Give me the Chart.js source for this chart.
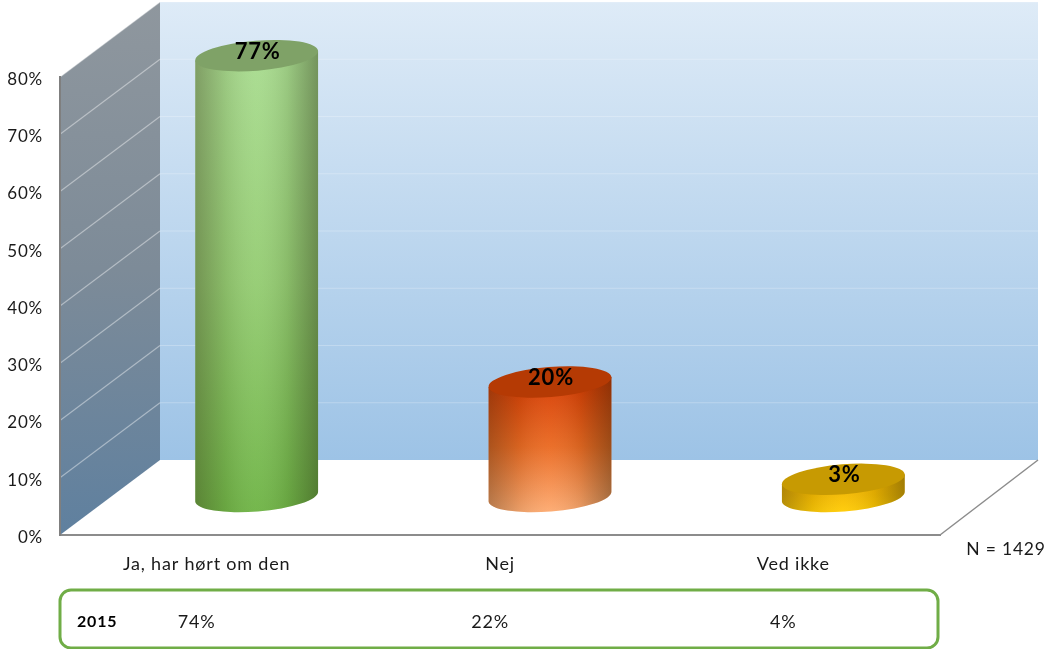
<!DOCTYPE html>
<html>
<head>
<meta charset="utf-8">
<title>Chart</title>
<script src="https://cdn.jsdelivr.net/npm/chart.js@4"></script>
<style>
  html, body { margin: 0; padding: 0; background: #fff; }
  canvas { display: block; }
</style>
</head>
<body>
<canvas id="chart" width="1045" height="649"></canvas>
<script>
const categories = ['Ja, har hørt om den', 'Nej', 'Ved ikke'];
const values2016 = [77, 20, 3];
const values2015 = [74, 22, 4];
const rowLabel = '2015';
const sampleNote = 'N = 1429';

// body colours per bar: top, middle, bottom, lid
const barColors = [
    ['#a9dc90', '#94cc72', '#6fb446', '#7fa267'],
    ['#d63c02', '#ea6a22', '#fdaa70', '#b53a04'],
    ['#f0b400', '#f5bb00', '#ffcb05', '#c79a02']
];

const FONT = 'Lato, "Open Sans", sans-serif';
const DEPTH_X = 100;  // how far the back wall sits behind the front edge
const DEPTH_Y = 75;
const TILT = -0.08;   // ellipses lean a little in the picture
const RY = 15;

function drawWalls(chart) {
    const { ctx, chartArea: a, scales: { y } } = chart;
    const left = a.left, right = a.right, bottom = a.bottom, top = a.top;
    const backLeft = left + DEPTH_X, backRight = right + 98, backBottom = bottom - DEPTH_Y, backTop = top - DEPTH_Y;

    // back wall
    let g = ctx.createLinearGradient(0, backTop, 0, backBottom);
    g.addColorStop(0, '#deebf7');
    g.addColorStop(1, '#9dc3e6');
    ctx.fillStyle = g;
    ctx.fillRect(backLeft, backTop, backRight - backLeft, backBottom - backTop);

    // side wall
    g = ctx.createLinearGradient(0, backTop, 0, bottom);
    g.addColorStop(0, '#8f979e');
    g.addColorStop(0.5, '#7d8b98');
    g.addColorStop(1, '#5f809f');
    ctx.fillStyle = g;
    ctx.beginPath();
    ctx.moveTo(left, top);
    ctx.lineTo(backLeft, backTop);
    ctx.lineTo(backLeft, backBottom);
    ctx.lineTo(left, bottom);
    ctx.closePath();
    ctx.fill();

    // grid lines run along both walls
    y.ticks.forEach(t => {
        if (t.value === 0) return;
        const py = y.getPixelForValue(t.value);
        ctx.lineWidth = 1.2;
        ctx.strokeStyle = 'rgba(255,255,255,0.42)';
        ctx.beginPath();
        ctx.moveTo(left, py);
        ctx.lineTo(backLeft, py - DEPTH_Y);
        ctx.stroke();
        ctx.strokeStyle = 'rgba(255,255,255,0.25)';
        ctx.beginPath();
        ctx.moveTo(backLeft, py - DEPTH_Y);
        ctx.lineTo(backRight, py - DEPTH_Y);
        ctx.stroke();
    });

    // floor edge on the right
    ctx.strokeStyle = '#8c8c8c';
    ctx.lineWidth = 1.5;
    ctx.beginPath();
    ctx.moveTo(right, bottom);
    ctx.lineTo(backRight, backBottom);
    ctx.stroke();
}

function drawCylinder(ctx, x, topY, baseY, w, colors) {
    const rx = w / 2;
    const ox = rx * Math.cos(TILT), oy = rx * Math.sin(TILT);

    ctx.save();
    ctx.beginPath();
    ctx.ellipse(x, baseY, rx, RY, TILT, 0, Math.PI);
    ctx.lineTo(x - ox, topY - oy);
    ctx.lineTo(x + ox, topY + oy);
    ctx.closePath();
    ctx.clip();

    let g = ctx.createLinearGradient(0, topY, 0, baseY + RY);
    g.addColorStop(0, colors[0]);
    g.addColorStop(0.5, colors[1]);
    g.addColorStop(1, colors[2]);
    ctx.fillStyle = g;
    ctx.fillRect(x - rx - 2, topY - RY - 5, w + 4, baseY - topY + 2 * RY + 10);

    // round shading across the body
    g = ctx.createLinearGradient(x - rx, 0, x + rx, 0);
    g.addColorStop(0, 'rgba(50,40,20,0.34)');
    g.addColorStop(0.25, 'rgba(50,40,20,0.1)');
    g.addColorStop(0.5, 'rgba(255,255,255,0.04)');
    g.addColorStop(0.75, 'rgba(30,30,10,0.1)');
    g.addColorStop(1, 'rgba(30,30,10,0.38)');
    ctx.fillStyle = g;
    ctx.fillRect(x - rx - 2, topY - RY - 5, w + 4, baseY - topY + 2 * RY + 10);
    ctx.restore();

    // lid
    ctx.fillStyle = colors[3];
    ctx.beginPath();
    ctx.ellipse(x, topY, rx, RY, TILT, 0, Math.PI * 2);
    ctx.fill();
}

const scene = {
    id: 'scene',
    // the y labels sit a little below their grid lines in the original
    afterLayout(chart) {
        chart.scales.y.getLabelItems().forEach(item => { item.options.translation[1] += 2.5; });
    },
    beforeDraw(chart) {
        chart.ctx.letterSpacing = '0.8px';
        drawWalls(chart);
    },
    // the bars are cylinders standing halfway back on the floor
    beforeDatasetDraw(chart, args) {
        const ctx = chart.ctx;
        args.meta.data.forEach((bar, i) => {
            drawCylinder(ctx, bar.x + DEPTH_X / 2, bar.y - DEPTH_Y / 2 - 1, bar.base - DEPTH_Y / 2 - 1, bar.width, barColors[i]);
        });
        return false;
    },
    afterDatasetsDraw(chart) {
        const { ctx, scales: { x }, chartArea: a } = chart;
        const meta = chart.getDatasetMeta(0);
        ctx.textBaseline = 'middle';
        ctx.fillStyle = '#000';

        // value labels on the lids
        ctx.textAlign = 'center';
        ctx.font = 'bold 22px ' + FONT;
        meta.data.forEach((bar, i) => {
            ctx.fillText(values2016[i] + '%', bar.x + 51, bar.y - DEPTH_Y / 2 - 5);
        });

        // box with last year's numbers
        ctx.strokeStyle = '#70ad47';
        ctx.lineWidth = 3;
        ctx.beginPath();
        ctx.roundRect(a.left, 590, 878, 58, 11);
        ctx.stroke();

        ctx.font = 'bold 16px ' + FONT;
        ctx.textAlign = 'left';
        ctx.fillText(rowLabel, 77, 622);

        ctx.font = '18px ' + FONT;
        ctx.textAlign = 'center';
        ctx.fillStyle = '#1a1a1a';
        values2015.forEach((v, i) => {
            ctx.fillText(v + '%', x.getPixelForValue(i) - 10, 622);
        });

        ctx.font = '17.5px ' + FONT;
        ctx.fillText(sampleNote, 1006, 549);
    }
};

new Chart(document.getElementById('chart'), {
    type: 'bar',
    data: {
        labels: categories,
        datasets: [{
            label: 'Har hørt om den',
            data: values2016,
            backgroundColor: barColors.map(c => c[1]),
            categoryPercentage: 1,
            barPercentage: 0.42
        }]
    },
    options: {
        responsive: false,
        animation: false,
        layout: { padding: { top: 77, right: 105, bottom: 0, left: 0 } },
        plugins: { legend: { display: false }, tooltip: { enabled: false }, title: { display: false } },
        scales: {
            x: {
                grid: { display: false, drawTicks: false },
                border: { color: '#8c8c8c', width: 2 },
                ticks: { color: '#1a1a1a', font: { family: FONT, size: 18 }, padding: 18, maxRotation: 0 },
                afterFit(s) { s.height = 114; }
            },
            y: {
                min: 0,
                max: 80,
                grid: { display: false, drawTicks: false },
                border: { color: '#7f7f7f', width: 2 },
                ticks: {
                    stepSize: 10,
                    color: '#1a1a1a',
                    padding: 17,
                    font: { family: FONT, size: 17 },
                    callback: v => v + '%'
                },
                afterFit(s) { s.width = 60; }
            }
        }
    },
    plugins: [scene]
});
</script>
</body>
</html>
